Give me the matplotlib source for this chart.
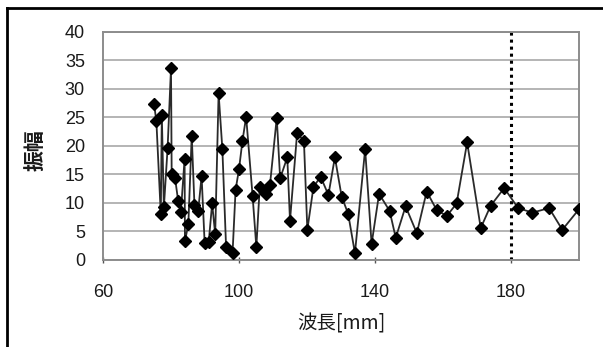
import matplotlib
matplotlib.use("Agg")
import matplotlib.pyplot as plt
from matplotlib.lines import Line2D

plt.rcParams['font.family'] = ['Liberation Sans', 'Noto Sans CJK JP', 'DejaVu Sans']

wavelength = [75.0, 75.7, 77.0, 77.3, 77.9, 79.0, 80.0, 80.2, 81.2, 82.1,
              82.9, 84.0, 84.1, 85.1, 86.1, 86.9, 88.0, 89.0, 89.9, 91.1,
              92.1, 93.0, 94.0, 95.1, 96.2, 98.1, 99.0, 100.0, 101.0, 102.1,
              104.0, 105.1, 106.1, 107.8, 109.1, 111.1, 112.1, 114.2, 115.0, 117.1,
              119.1, 120.1, 121.9, 124.0, 126.3, 128.2, 130.2, 132.1, 134.1, 137.1,
              139.0, 141.2, 144.3, 146.1, 149.0, 152.3, 155.2, 158.1, 161.1, 164.0,
              167.1, 171.1, 174.0, 178.0, 182.1, 186.3, 191.2, 195.1, 200.0]
amplitude = [27.4, 24.3, 8.0, 25.4, 9.2, 19.6, 33.6, 15.0, 14.3, 10.4,
             8.4, 17.7, 3.3, 6.3, 21.8, 9.6, 8.6, 14.7, 2.9, 3.2,
             9.9, 4.5, 29.2, 19.5, 2.3, 1.2, 12.3, 15.9, 20.8, 25.1,
             11.2, 2.3, 12.8, 11.5, 13.1, 24.9, 14.3, 18.0, 6.9, 22.3,
             20.8, 5.3, 12.8, 14.6, 11.4, 18.0, 11.1, 8.1, 1.2, 19.4,
             2.8, 11.6, 8.6, 3.9, 9.4, 4.7, 12.0, 8.8, 7.7, 9.9,
             20.6, 5.6, 9.5, 12.6, 9.1, 8.3, 9.1, 5.3, 8.9]

x_ticks = [60, 100, 140, 180]
y_ticks = [0, 5, 10, 15, 20, 25, 30, 35, 40]
threshold = 180
x_label = "波長[mm]"
y_label = "振幅"

W, H = 603, 347
fig = plt.figure(figsize=(W / 100, H / 100), dpi=100)
ax = fig.add_axes([103 / W, (H - 260) / H, (579 - 103) / W, (260 - 31.7) / H])

ax.plot(wavelength, amplitude, color='#2a2a2a', linewidth=1.3,
        marker='D', markersize=5.8, markerfacecolor='black',
        markeredgecolor='black', zorder=3)
ax.axvline(threshold, color='black', linestyle=(0, (1, 1.3)), linewidth=2.2, zorder=2)

ax.set_xlim(60, 200)
ax.set_ylim(0, 40)
ax.set_xticks(x_ticks)
ax.set_yticks(y_ticks)
ax.yaxis.grid(True, color='#a8a8a8', linewidth=1.2)
ax.set_axisbelow(True)
for side in ['left', 'right', 'top', 'bottom']:
    ax.spines[side].set_color('#8c8c8c')
    ax.spines[side].set_linewidth(1.4)

ax.tick_params(axis='y', length=0, pad=13, labelsize=13, labelcolor='#1a1a1a')
ax.tick_params(axis='x', length=5, width=1, direction='inout', color='#555555',
               pad=14.5, labelsize=13, labelcolor='#1a1a1a')

fig.text(341 / W, 1 - 324 / H, x_label, ha='center', va='center', fontsize=14,
         family=['Noto Sans CJK JP', 'DejaVu Sans'], color='#1a1a1a')
fig.text(35 / W, 1 - 150 / H, y_label, ha='center', va='center', fontsize=15,
         rotation=90, fontweight='bold',
         family=['Noto Sans CJK JP', 'DejaVu Sans'], color='#1a1a1a')

# outer chart border (top and left visible)
fig.add_artist(Line2D([7 / W, 1.0], [1 - 8 / H, 1 - 8 / H], color='black',
                      linewidth=2, transform=fig.transFigure))
fig.add_artist(Line2D([7 / W, 7 / W], [0.0, 1 - 8 / H], color='black',
                      linewidth=2, transform=fig.transFigure))

fig.savefig("out.png", dpi=100)
